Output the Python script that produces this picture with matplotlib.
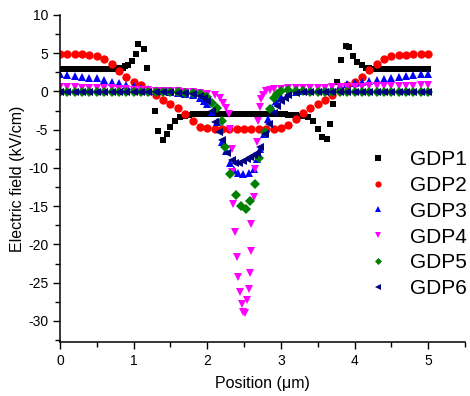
import matplotlib
matplotlib.use('Agg')
from matplotlib import pyplot as plt
from matplotlib.ticker import MultipleLocator

plt.rcParams['font.family'] = ['Liberation Sans', 'DejaVu Sans']
plt.rcParams['axes.unicode_minus'] = False

# GDP1 (black squares)
gdp1_x = [0.00, 0.05, 0.10, 0.15, 0.20, 0.25, 0.30, 0.35, 0.40, 0.45, 0.50, 0.55, 0.60, 0.65, 0.70, 0.75, 0.80, 0.85, 0.88,
          0.92, 0.98, 1.03, 1.06, 1.14, 1.18, 1.29, 1.33, 1.40, 1.45, 1.49, 1.56, 1.63,
          1.70, 1.75, 1.80, 1.85, 1.90, 1.95, 2.00, 2.05, 2.10, 2.15, 2.20, 2.25, 2.30, 2.35, 2.40, 2.45, 2.50,
          2.55, 2.60, 2.65, 2.70, 2.75, 2.80, 2.85, 2.90, 2.95, 3.00, 3.05, 3.10, 3.15, 3.20, 3.25, 3.30,
          3.37, 3.44, 3.50, 3.56, 3.63, 3.67, 3.71, 3.76, 3.82, 3.89, 3.93, 3.98, 4.04, 4.10, 4.16,
          4.20, 4.25, 4.30, 4.35, 4.40, 4.45, 4.50, 4.55, 4.60, 4.65, 4.70, 4.75, 4.80, 4.85, 4.90, 4.95, 5.00]
gdp1_y = [3.0, 3.0, 3.0, 3.0, 3.0, 3.0, 3.0, 3.0, 3.0, 3.0, 3.0, 3.0, 3.0, 3.0, 3.0, 3.0, 3.05, 3.1, 3.3,
          3.5, 4.0, 4.9, 6.2, 5.6, 3.1, -2.5, -5.2, -6.4, -5.6, -4.7, -3.8, -3.4,
          -3.2, -3.1, -3.0, -3.0, -3.0, -3.0, -3.0, -3.0, -3.0, -3.0, -3.0, -3.0, -3.0, -3.0, -3.0, -3.0, -3.0,
          -3.0, -3.0, -3.0, -3.0, -3.0, -3.0, -3.0, -3.0, -3.0, -3.0, -3.0, -3.05, -3.1, -3.1, -3.15, -3.2,
          -3.4, -3.9, -4.9, -6.0, -6.2, -4.3, -1.6, 1.2, 4.1, 6.0, 5.8, 4.7, 3.8, 3.4, 3.1,
          3.05, 3.0, 3.0, 3.0, 3.0, 3.0, 3.0, 3.0, 3.0, 3.0, 3.0, 3.0, 3.0, 3.0, 3.0, 3.0, 3.0]

# GDP2 (red circles)
gdp2_x = [0.0, 0.1, 0.2, 0.3, 0.4, 0.5, 0.6, 0.7, 0.8, 0.9, 1.0, 1.1, 1.2, 1.3, 1.4, 1.5, 1.6, 1.7, 1.8, 1.9,
          2.0, 2.1, 2.2, 2.3, 2.4, 2.5, 2.6, 2.7, 2.8, 2.9, 3.0, 3.1, 3.2, 3.3, 3.4, 3.5, 3.6, 3.7, 3.8, 3.9,
          4.0, 4.1, 4.2, 4.3, 4.4, 4.5, 4.6, 4.7, 4.8, 4.9, 5.0]
gdp2_y = [4.85, 4.85, 4.85, 4.85, 4.8, 4.7, 4.3, 3.6, 2.7, 1.9, 1.3, 0.8, 0.1, -0.4, -1.1, -1.7, -2.2, -2.9, -3.9, -4.6,
          -4.8, -4.85, -4.85, -4.85, -4.85, -4.85, -4.85, -4.85, -4.85, -4.85, -4.75, -4.4, -3.6, -2.8, -2.2, -1.6, -1.1, -0.5, 0.2, 0.8,
          1.3, 1.9, 2.8, 3.6, 4.2, 4.6, 4.75, 4.8, 4.85, 4.85, 4.85]

# GDP3 (blue up triangles)
gdp3_x = [0.0, 0.1, 0.2, 0.3, 0.4, 0.5, 0.6, 0.7, 0.8, 0.9, 1.0, 1.1, 1.2, 1.3, 1.4, 1.5, 1.6, 1.7, 1.8, 1.9,
          1.95, 2.0, 2.06, 2.13, 2.2, 2.25, 2.31, 2.36, 2.42, 2.49, 2.56, 2.63, 2.68, 2.72, 2.77, 2.82, 2.88, 2.94,
          3.0, 3.1, 3.2, 3.3, 3.4, 3.5, 3.6, 3.7, 3.8, 3.9, 4.0, 4.1, 4.2, 4.3, 4.4, 4.5, 4.6, 4.7, 4.8, 4.9, 5.0]
gdp3_y = [2.35, 2.2, 2.05, 1.95, 1.8, 1.7, 1.5, 1.3, 1.1, 0.9, 0.7, 0.5, 0.3, 0.1, 0.0, -0.1, -0.2, -0.35, -0.5, -0.8,
          -1.2, -1.7, -2.7, -4.0, -6.6, -7.8, -9.3, -10.3, -10.7, -10.8, -10.7, -10.1, -8.8, -7.5, -5.5, -3.6, -2.2, -1.3,
          -0.7, -0.3, -0.1, 0.0, 0.1, 0.25, 0.4, 0.5, 0.75, 0.95, 1.1, 1.2, 1.35, 1.5, 1.6, 1.75, 1.9, 2.0, 2.15, 2.25, 2.35]

# GDP4 (magenta down triangles)
gdp4_x = [0.0, 0.1, 0.2, 0.3, 0.4, 0.5, 0.6, 0.7, 0.8, 0.9, 1.0, 1.1, 1.2, 1.3, 1.4, 1.5, 1.6, 1.7, 1.8, 1.9, 2.0,
          2.1, 2.17, 2.22, 2.26, 2.29, 2.31, 2.33, 2.34, 2.35, 2.38, 2.40, 2.42, 2.44, 2.47, 2.49, 2.51,
          2.54, 2.56, 2.58, 2.59, 2.60, 2.63, 2.65, 2.67, 2.69, 2.71, 2.73, 2.76, 2.8, 2.85, 2.9,
          3.0, 3.1, 3.2, 3.3, 3.4, 3.5, 3.6, 3.7, 3.8, 3.9, 4.0, 4.1, 4.2, 4.3, 4.4, 4.5, 4.6, 4.7, 4.8, 4.9, 5.0]
gdp4_y = [0.6, 0.58, 0.55, 0.52, 0.5, 0.47, 0.43, 0.4, 0.35, 0.3, 0.25, 0.2, 0.15, 0.1, 0.05, 0.0, 0.0, -0.05, -0.1, -0.15, -0.3,
          -0.4, -0.8, -1.5, -2.2, -3.0, -4.9, -7.5, -10.5, -14.7, -18.4, -21.6, -24.3, -26.2, -27.8, -28.8, -29.0,
          -27.3, -25.8, -23.7, -20.8, -17.3, -13.8, -10.1, -6.6, -3.8, -2.0, -1.0, -0.4, 0.0, 0.2, 0.3,
          0.35, 0.4, 0.42, 0.45, 0.47, 0.5, 0.52, 0.55, 0.57, 0.6, 0.62, 0.65, 0.67, 0.7, 0.72, 0.74, 0.76, 0.77, 0.78, 0.79, 0.8]

# GDP5 (green diamonds)
gdp5_x = [0.0, 0.1, 0.2, 0.3, 0.4, 0.5, 0.6, 0.7, 0.8, 0.9, 1.0, 1.1, 1.2, 1.3, 1.4, 1.5, 1.6, 1.7, 1.8, 1.9,
          1.93, 2.0, 2.06, 2.13, 2.2, 2.24, 2.31, 2.39, 2.46, 2.53, 2.58, 2.65, 2.70, 2.79, 2.85, 2.9, 2.95,
          3.0, 3.1, 3.2, 3.3, 3.4, 3.5, 3.6, 3.7, 3.8, 3.9, 4.0, 4.1, 4.2, 4.3, 4.4, 4.5, 4.6, 4.7, 4.8, 4.9, 5.0]
gdp5_y = [-0.1, -0.1, -0.1, -0.1, -0.1, -0.1, -0.1, -0.1, -0.1, -0.1, -0.1, -0.1, -0.1, -0.1, -0.1, -0.1, -0.1, -0.15, -0.2, -0.3,
          -0.4, -0.7, -1.5, -2.1, -3.9, -7.3, -10.8, -13.5, -15.0, -15.3, -14.3, -12.1, -8.7, -5.3, -2.3, -0.9, -0.3,
          0.1, 0.2, 0.1, 0.0, -0.1, -0.1, -0.1, -0.1, -0.1, -0.1, -0.1, -0.1, -0.1, -0.1, -0.1, -0.1, -0.1, -0.1, -0.1, -0.1, -0.1]

# GDP6 (navy left triangles)
gdp6_x = [0.0, 0.1, 0.2, 0.3, 0.4, 0.5, 0.6, 0.7, 0.8, 0.9, 1.0, 1.1, 1.2, 1.3, 1.4, 1.5, 1.6, 1.7, 1.8, 1.9,
          1.95, 2.0, 2.06, 2.1, 2.16, 2.2, 2.27, 2.33, 2.38, 2.43, 2.49, 2.54, 2.58, 2.63, 2.67, 2.72, 2.79, 2.84, 2.9, 2.95,
          3.0, 3.05, 3.1, 3.2, 3.3, 3.4, 3.5, 3.6, 3.7, 3.8, 3.9, 4.0, 4.1, 4.2, 4.3, 4.4, 4.5, 4.6, 4.7, 4.8, 4.9, 5.0]
gdp6_y = [-0.1, -0.1, -0.1, -0.1, -0.1, -0.1, -0.1, -0.1, -0.1, -0.1, -0.1, -0.1, -0.1, -0.1, -0.1, -0.1, -0.15, -0.2, -0.3, -0.6,
          -0.9, -1.3, -2.5, -4.0, -5.3, -6.4, -8.0, -9.0, -9.4, -9.3, -9.1, -8.8, -8.6, -8.3, -8.0, -7.3, -5.5, -4.2, -2.8, -1.9,
          -1.2, -0.8, -0.5, -0.2, -0.1, -0.1, -0.1, -0.1, -0.1, -0.1, -0.1, -0.1, -0.1, -0.1, -0.1, -0.1, -0.1, -0.1, -0.1, -0.1, -0.1, -0.1]

series = [
    ('GDP1', gdp1_x, gdp1_y, 's', 'black', 5.0),
    ('GDP2', gdp2_x, gdp2_y, 'o', 'red', 6.0),
    ('GDP3', gdp3_x, gdp3_y, '^', 'blue', 6.0),
    ('GDP4', gdp4_x, gdp4_y, 'v', 'magenta', 6.0),
    ('GDP5', gdp5_x, gdp5_y, 'D', 'green', 4.8),
    ('GDP6', gdp6_x, gdp6_y, '<', 'navy', 6.0),
]

fig = plt.figure(figsize=(4.7, 3.96), dpi=100)
ax = fig.add_axes([60/470, 54/396, 405/470, 327/396])

for name, xs, ys, mk, col, ms in series:
    ax.plot(xs, ys, linestyle='none', marker=mk, color=col, markersize=ms,
            markeredgewidth=0, label=name)

ax.set_xlim(0, 5.5)
ax.set_ylim(-32.75, 10)
ax.xaxis.set_major_locator(MultipleLocator(1))
ax.xaxis.set_minor_locator(MultipleLocator(0.5))
ax.yaxis.set_major_locator(MultipleLocator(5))
ax.yaxis.set_minor_locator(MultipleLocator(2.5))
ax.tick_params(which='major', direction='out', length=5, width=1, labelsize=10)
ax.tick_params(which='minor', direction='out', length=3.5, width=1)
for s in ['top', 'right']:
    ax.spines[s].set_visible(False)
for s in ['left', 'bottom']:
    ax.spines[s].set_linewidth(1.1)

ax.set_xlabel('Position (μm)', fontsize=11.5, labelpad=6)
ax.set_ylabel('Electric field (kV/cm)', fontsize=11.5, labelpad=2)

fig.legend(loc='upper left', bbox_to_anchor=(368/470, 1 - 150/396), frameon=False,
           fontsize=15, handlelength=1.0, handletextpad=1.0, labelspacing=0.33,
           borderpad=0, borderaxespad=0, markerscale=0.75)

fig.savefig('out.png', dpi=100)
